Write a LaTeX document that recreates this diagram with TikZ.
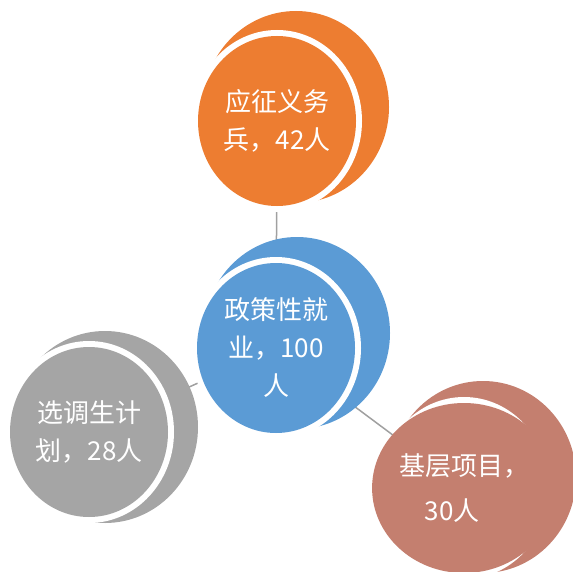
\documentclass[tikz,border=0pt]{standalone}
\usepackage{fontspec}
\newfontfamily\cjk{Noto Sans CJK SC}
\usetikzlibrary{shapes.geometric}
\definecolor{discorange}{RGB}{237,125,49}
\definecolor{discblue}{RGB}{91,155,213}
\definecolor{discgray}{RGB}{165,165,165}
\definecolor{discred}{RGB}{196,127,111}
\definecolor{linkgray}{RGB}{160,160,160}
\pgfdeclarelayer{links}
\pgfsetlayers{links,main}

\begin{document}
\begin{tikzpicture}[x=1pt, y=-1pt,
  front/.style={ellipse, minimum width=158pt, minimum height=170pt, inner sep=0pt, text=white, align=center, font=\cjk\fontsize{26}{38}\selectfont},
  back/.style={x radius=93, y radius=96},
  gap/.style={x radius=85, y radius=91},
  link/.style={draw=linkgray, line width=1.5pt}]
\useasboundingbox (0,0) rectangle (572,572);

% 应征义务兵
\fill[discorange] (296,107) ellipse [back];
\fill[white] (277,121) ellipse [gap];
\node[front, fill=discorange] (bing) at (277,121) {应征义务\\兵，42人};

% 政策性就业
\fill[discblue] (297,333) ellipse [back];
\fill[white] (276,348) ellipse [gap];
\node[front, fill=discblue] (jiuye) at (276,348) {政策性就\\业，100\\人};

% 选调生
\fill[discgray] (105,427) ellipse [back];
\fill[white] (89,432) ellipse [gap];
\node[front, fill=discgray] (xuandiao) at (89,432) {选调生计\\划，28人};

% 基层项目
\fill[discred] (483,477) ellipse [back];
\fill[white] (464,488) ellipse [gap];
\node[front, fill=discred] (jiceng) at (464,488) {基层项目，\\[7pt]30人\hspace*{24pt}};

\begin{pgfonlayer}{links}
\draw[link] (jiuye.center) -- (bing.center);
\draw[link] (jiuye.center) -- (xuandiao.center);
\draw[link] (jiuye.center) -- (jiceng.center);
\end{pgfonlayer}
\end{tikzpicture}
\end{document}
